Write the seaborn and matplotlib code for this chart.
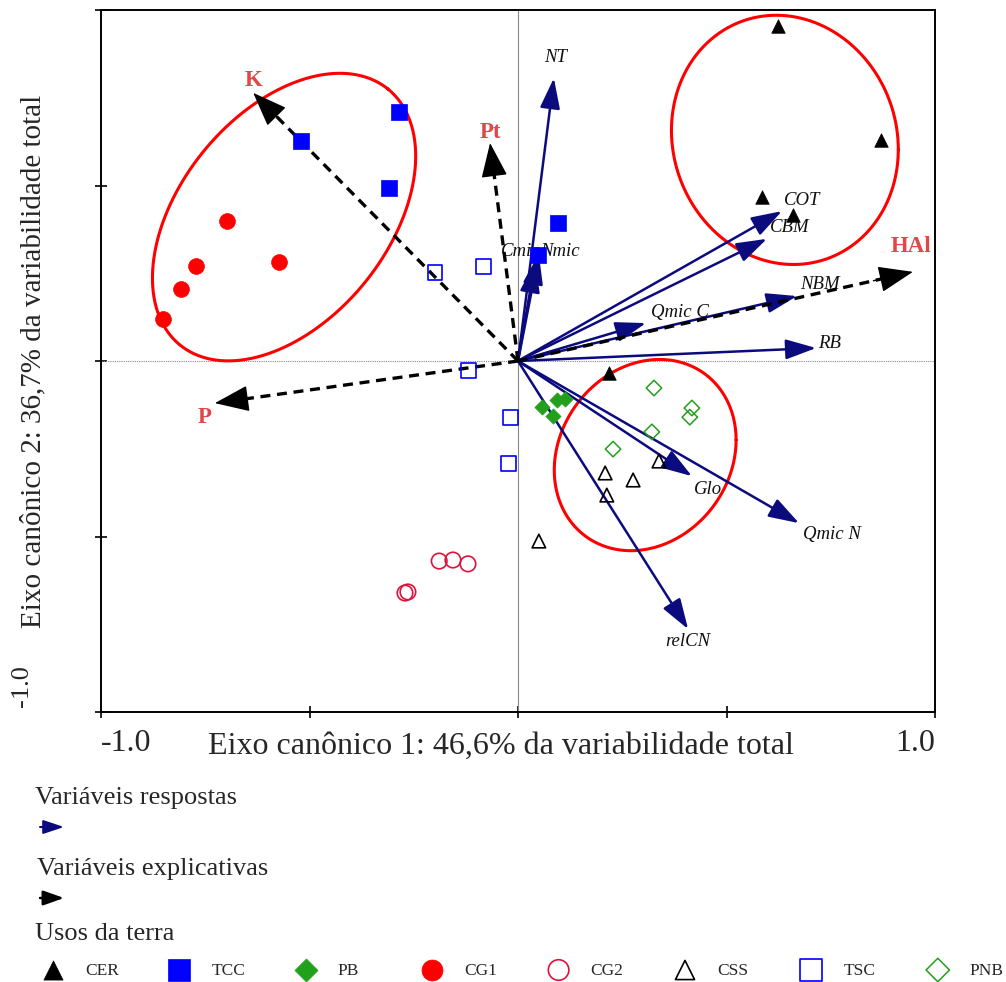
import numpy as np
import pandas as pd
import matplotlib
matplotlib.use('Agg')
import matplotlib.pyplot as plt
import seaborn as sns

# ---------------- data (canonical scores) ----------------
cer_x = [0.623, 0.870, 0.585, 0.659, 0.218]
cer_y = [0.954, 0.630, 0.467, 0.416, -0.034]
tcc_x = [-0.285, -0.520, -0.309, 0.096, 0.048]
tcc_y = [0.709, 0.627, 0.493, 0.393, 0.302]
pb_x = [0.057, 0.084, 0.094, 0.113]
pb_y = [-0.131, -0.157, -0.111, -0.108]
cg1_x = [-0.698, -0.772, -0.808, -0.851, -0.573]
cg1_y = [0.399, 0.271, 0.205, 0.120, 0.282]
cg2_x = [-0.189, -0.156, -0.120, -0.271, -0.264]
cg2_y = [-0.570, -0.567, -0.578, -0.661, -0.658]
css_x = [0.209, 0.276, 0.338, 0.213, 0.050]
css_y = [-0.319, -0.339, -0.285, -0.382, -0.513]
tsc_x = [-0.199, -0.082, -0.118, -0.019, -0.022]
tsc_y = [0.251, 0.268, -0.026, -0.160, -0.291]
pnb_x = [0.326, 0.417, 0.412, 0.321, 0.228]
pnb_y = [-0.077, -0.134, -0.160, -0.202, -0.251]

group_names = ['CER', 'TCC', 'PB', 'CG1', 'CG2', 'CSS', 'TSC', 'PNB']

# response variables (arrows)
resp_names = ['NT', 'Cmic', 'Nmic', 'COT', 'CBM', 'Qmic C', 'NBM', 'RB', 'Glo', 'Qmic N', 'relCN']
resp_x = [0.086, 0.041, 0.050, 0.633, 0.597, 0.307, 0.669, 0.715, 0.417, 0.674, 0.408]
resp_y = [0.806, 0.282, 0.305, 0.427, 0.348, 0.108, 0.185, 0.037, -0.328, -0.462, -0.764]
resp_lx = [0.091, 0.007, 0.101, 0.681, 0.652, 0.388, 0.724, 0.748, 0.456, 0.753, 0.408]
resp_ly = [0.866, 0.311, 0.311, 0.456, 0.379, 0.137, 0.217, 0.051, -0.365, -0.493, -0.798]

# explanatory variables (dashed arrows)
expl_names = ['K', 'Pt', 'HAl', 'P']
expl_x = [-0.635, -0.067, 0.947, -0.727]
expl_y = [0.764, 0.621, 0.254, -0.120]
expl_lx = [-0.635, -0.067, 0.942, -0.751]
expl_ly = [0.800, 0.652, 0.325, -0.160]

# group ellipses: centre and two semi-axis vectors (data units)
ell_cx = [-0.561, 0.640, 0.305]
ell_cy = [0.410, 0.630, -0.268]
ell_u = [(0.249, 0.365), (0.272, -0.027), (0.218, 0.043)]
ell_v = [(0.194, -0.186), (0.0, 0.354), (0.0, 0.269)]

x_label = 'Eixo canônico 1: 46,6% da variabilidade total'
y_label = 'Eixo canônico 2: 36,7% da variabilidade total'

# ---------------- styles ----------------
NAVY = '#0b0b7e'
LABRED = '#e04848'
GREEN = '#22a01c'
BLUE = '#0000ff'
styles = {
    'CER': dict(marker='^', fc='black', ec='black', s=95, lw=0.5),
    'TCC': dict(marker='s', fc=BLUE, ec=BLUE, s=120, lw=0.5),
    'PB':  dict(marker='D', fc=GREEN, ec=GREEN, s=60, lw=0.5),
    'CG1': dict(marker='o', fc='red', ec='red', s=130, lw=0.5),
    'CG2': dict(marker='o', fc='none', ec='#dc143c', s=125, lw=1.2),
    'CSS': dict(marker='^', fc='none', ec='black', s=95, lw=1.2),
    'TSC': dict(marker='s', fc='none', ec=BLUE, s=115, lw=1.2),
    'PNB': dict(marker='D', fc='none', ec=GREEN, s=62, lw=1.1),
}

sns.set_theme(style='white')
plt.rcParams['font.family'] = ['Liberation Serif', 'DejaVu Serif']

fig = plt.figure(figsize=(10.06, 9.82), dpi=100)
W, H = 1006, 982
ax = fig.add_axes([101 / W, 1 - 712 / H, (935 - 101) / W, (712 - 10) / H])
ax.set_xlim(-1, 1)
ax.set_ylim(-1, 1)

# zero lines
ax.axhline(0, color='#888888', lw=0.8, ls=(0, (1, 1)), zorder=1)
ax.axvline(0, color='#888888', lw=0.8, zorder=1)

# ellipses
t = np.linspace(0, 2 * np.pi, 300)
for cx, cy, u, v in zip(ell_cx, ell_cy, ell_u, ell_v):
    ex = cx + u[0] * np.cos(t) + v[0] * np.sin(t)
    ey = cy + u[1] * np.cos(t) + v[1] * np.sin(t)
    ax.plot(ex, ey, color='red', lw=2.2, zorder=2)

# response arrows
for n, x, y, lx, ly in zip(resp_names, resp_x, resp_y, resp_lx, resp_ly):
    ax.annotate('', xy=(x, y), xytext=(0, 0),
                arrowprops=dict(arrowstyle='-|>,head_length=0.85,head_width=0.28',
                                color=NAVY, lw=1.8, mutation_scale=22,
                                shrinkA=0, shrinkB=0), zorder=3)
    ax.text(lx, ly, n, fontsize=13.5, style='italic', color='#111111',
            ha='center', va='center', zorder=3)

# explanatory arrows (dashed)
for n, x, y, lx, ly in zip(expl_names, expl_x, expl_y, expl_lx, expl_ly):
    ax.plot([0, x * 0.96], [0, y * 0.96], color='black', lw=2.4, ls=(0, (3, 2)), zorder=3)
    ax.annotate('', xy=(x, y), xytext=(x * 0.9, y * 0.9),
                arrowprops=dict(arrowstyle='-|>,head_length=1.0,head_width=0.38',
                                color='black', lw=1, mutation_scale=22,
                                shrinkA=0, shrinkB=0), zorder=3)
    ax.text(lx, ly, n, fontsize=16.5, fontweight='bold', color=LABRED,
            ha='center', va='center', zorder=3)

# site points
xs = [cer_x, tcc_x, pb_x, cg1_x, cg2_x, css_x, tsc_x, pnb_x]
ys = [cer_y, tcc_y, pb_y, cg1_y, cg2_y, css_y, tsc_y, pnb_y]
df = pd.concat([pd.DataFrame({'x': a, 'y': b, 'uso': g})
                for a, b, g in zip(xs, ys, group_names)], ignore_index=True)
for g in group_names:
    st = styles[g]
    sns.scatterplot(data=df[df['uso'] == g], x='x', y='y', ax=ax, legend=False,
                    marker=st['marker'], s=st['s'], color=st['ec'],
                    facecolor=st['fc'], edgecolor=st['ec'], linewidth=st['lw'],
                    zorder=5)

# axes cosmetics
for sp in ax.spines.values():
    sp.set_visible(True)
    sp.set_color('black')
    sp.set_linewidth(1.4)
ax.set_xticks([-1, -0.5, 0, 0.5, 1])
ax.set_xticklabels(['-1.0', '', '', '', '1.0'], fontsize=23)
ax.set_yticks([-1, -0.5, 0, 0.5, 1])
ax.set_yticklabels([])
ax.tick_params(axis='both', direction='inout', length=9, width=1.2, color='black',
               left=True, bottom=True, top=False, right=False, pad=8)
labs = ax.get_xticklabels()
labs[0].set_ha('left')
labs[-1].set_ha('right')
ax.set_xlabel(x_label, fontsize=23)
ax.xaxis.set_label_coords(0.48, -0.028)
ax.set_ylabel(y_label, fontsize=21)
ax.yaxis.set_label_coords(-0.066, 0.50)

fig.text(22 / W, 1 - 686 / H, '-1.0', rotation=90, fontsize=19, ha='center', va='center')

# ---------------- legend block ----------------
lax = fig.add_axes([0, 0, 1, 1])
lax.set_xlim(0, W)
lax.set_ylim(H, 0)
lax.axis('off')
lax.patch.set_visible(False)

lax.text(35, 798, 'Variáveis respostas', fontsize=19, ha='left', va='center')
lax.annotate('', xy=(64, 827), xytext=(40, 827),
             arrowprops=dict(arrowstyle='-|>,head_length=0.9,head_width=0.3',
                             color=NAVY, lw=1.5, mutation_scale=14, shrinkA=0, shrinkB=0))
lax.text(37, 869, 'Variáveis explicativas', fontsize=19, ha='left', va='center')
lax.annotate('', xy=(64, 898), xytext=(40, 898),
             arrowprops=dict(arrowstyle='-|>,head_length=0.9,head_width=0.32',
                             color='black', lw=1.8, mutation_scale=14, shrinkA=0, shrinkB=0))
lax.text(35, 934, 'Usos da terra', fontsize=19, ha='left', va='center')

leg_scale = {'^': 2.0, 's': 2.2, 'D': 2.3, 'o': 1.75}
for i, g in enumerate(group_names):
    st = styles[g]
    mx = 53 + 126.4 * i
    lax.scatter([mx], [970], marker=st['marker'], s=st['s'] * leg_scale[st['marker']],
                facecolor=st['fc'], edgecolor=st['ec'], linewidth=st['lw'], clip_on=False)
    lax.text(mx + 32, 971, g, fontsize=12.5, ha='left', va='center')

fig.savefig('out.png', dpi=100)
